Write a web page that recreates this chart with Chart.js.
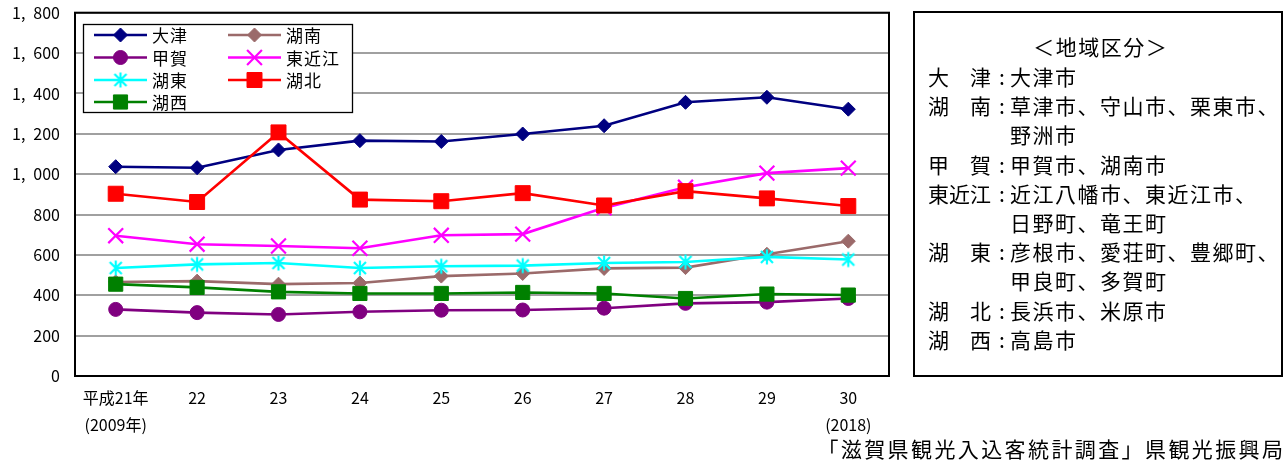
<!DOCTYPE html>
<html lang="ja">
<head>
<meta charset="utf-8">
<title>滋賀県 地域別観光入込客数の推移</title>
<script src="https://cdn.jsdelivr.net/npm/chart.js@4.4.0/dist/chart.umd.min.js"></script>
<style>
  html, body { margin: 0; padding: 0; background: #fff; }
  #wrap { position: relative; width: 1288px; height: 462px; }
  canvas { display: block; }
</style>
</head>
<body>
<div id="wrap"><canvas id="c" width="1288" height="462"></canvas></div>
<script>
// Fiscal years (Heisei 21 = 2009 ... Heisei 30 = 2018)
const xLabels = [['平成21年', '(2009年)'], '22', '23', '24', '25', '26', '27', '28', '29', ['30', '(2018)']];

// Visitors per region (万人)
const otsu      = [1037, 1032, 1120, 1166, 1162, 1199, 1240, 1356, 1381, 1322];
const konan     = [466, 470, 455, 461, 495, 508, 533, 537, 603, 668];
const koka      = [330, 314, 305, 318, 326, 327, 336, 360, 366, 384];
const higashiOmi= [695, 653, 644, 633, 697, 703, 833, 935, 1005, 1030];
const koto      = [535, 553, 560, 535, 544, 547, 560, 565, 590, 577];
const kohoku    = [903, 862, 1207, 874, 866, 906, 845, 916, 880, 842];
const kosei     = [455, 439, 417, 409, 409, 414, 409, 384, 406, 401];

const seriesNames  = ['大津', '湖南', '甲賀', '東近江', '湖東', '湖北', '湖西'];
const seriesValues = [otsu, konan, koka, higashiOmi, koto, kohoku, kosei];

// Region breakdown shown in the side panel
const panelTitle = '＜地域区分＞';
const regionRows = [
  ['大　津', ['大津市']],
  ['湖　南', ['草津市、守山市、栗東市、', '野洲市']],
  ['甲　賀', ['甲賀市、湖南市']],
  ['東近江', ['近江八幡市、東近江市、', '日野町、竜王町']],
  ['湖　東', ['彦根市、愛荘町、豊郷町、', '甲良町、多賀町']],
  ['湖　北', ['長浜市、米原市']],
  ['湖　西', ['高島市']]
];
const sourceNote = '「滋賀県観光入込客統計調査」県観光振興局';

const FONT = '"Noto Sans CJK JP", "Noto Sans", sans-serif';
Chart.defaults.font.family = FONT;
Chart.defaults.color = '#000';

// Asterisk marker (X with a vertical stroke)
function asteriskMarker(color) {
  const s = 20, c = s / 2;
  const cv = document.createElement('canvas');
  cv.width = s; cv.height = s;
  const g = cv.getContext('2d');
  g.strokeStyle = color;
  g.lineWidth = 2.2;
  g.lineCap = 'butt';
  g.beginPath();
  g.moveTo(c, c - 7.5); g.lineTo(c, c + 7.5);
  g.moveTo(c - 6, c - 6); g.lineTo(c + 6, c + 6);
  g.moveTo(c + 6, c - 6); g.lineTo(c - 6, c + 6);
  g.stroke();
  return cv;
}

const styles = [
  { color: '#000080', pointStyle: 'rectRot', radius: 7,    pbw: 1 },
  { color: '#9b6a6a', pointStyle: 'rectRot', radius: 7,    pbw: 1 },
  { color: '#800080', pointStyle: 'circle',  radius: 7,    pbw: 1 },
  { color: '#ff00ff', pointStyle: 'crossRot',radius: 10.5, pbw: 2.2 },
  { color: '#00ffff', pointStyle: asteriskMarker('#00ffff'), radius: 8, pbw: 0 },
  { color: '#ff0000', pointStyle: 'rect',    radius: 10.6, pbw: 1 },
  { color: '#008000', pointStyle: 'rect',    radius: 10,   pbw: 1 }
];

const datasets = seriesNames.map((name, i) => ({
  label: name,
  data: seriesValues[i],
  borderColor: styles[i].color,
  backgroundColor: styles[i].color,
  borderWidth: 2.6,
  pointStyle: styles[i].pointStyle,
  pointRadius: styles[i].radius,
  pointHoverRadius: styles[i].radius,
  pointBorderWidth: styles[i].pbw,
  pointBorderColor: styles[i].color,
  pointBackgroundColor: styles[i].color,
  tension: 0,
  fill: false,
  // later series are painted over earlier ones
  order: seriesNames.length - i
}));

// Draw a string with extra spacing between characters
function spacedText(ctx, text, x, y, spacing) {
  let cx = x;
  for (const ch of text) {
    ctx.fillText(ch, cx, y);
    cx += ctx.measureText(ch).width + spacing;
  }
  return cx - spacing;
}
function spacedWidth(ctx, text, spacing) {
  let w = 0;
  for (const ch of text) w += ctx.measureText(ch).width + spacing;
  return w - spacing;
}

// Plot frame, legend box, region panel and source line
const decorations = {
  id: 'decorations',
  afterDraw(chart) {
    const ctx = chart.ctx;
    const a = chart.chartArea;
    ctx.save();

    // frame around the plot area
    ctx.strokeStyle = '#000';
    ctx.lineWidth = 2;
    ctx.strokeRect(a.left, a.top, a.right - a.left, a.bottom - a.top);

    // legend box
    const lx = 83, ly = 24, lw = 269, lh = 88;
    ctx.fillStyle = '#fff';
    ctx.fillRect(lx, ly, lw, lh);
    ctx.lineWidth = 1.3;
    ctx.strokeRect(lx + 0.5, ly + 0.5, lw, lh);
    const colX = [94, 228];
    const rowY = [35, 57.5, 80, 102];
    ctx.font = '17px ' + FONT;
    ctx.textBaseline = 'middle';
    ctx.textAlign = 'left';
    chart.data.datasets.forEach((ds, i) => {
      const x0 = colX[i % 2], y0 = rowY[Math.floor(i / 2)];
      ctx.strokeStyle = ds.borderColor;
      ctx.lineWidth = 2.6;
      ctx.beginPath();
      ctx.moveTo(x0, y0); ctx.lineTo(x0 + 53, y0);
      ctx.stroke();
      ctx.fillStyle = ds.pointBackgroundColor;
      ctx.strokeStyle = ds.pointBorderColor;
      ctx.lineWidth = ds.pointBorderWidth;
      Chart.helpers.drawPoint(ctx, {
        pointStyle: ds.pointStyle, rotation: 0,
        radius: ds.pointRadius, borderWidth: ds.pointBorderWidth
      }, x0 + 26.5, y0);
      ctx.fillStyle = '#000';
      spacedText(ctx, ds.label, x0 + 58, y0 + 1, 1);
    });

    // region panel
    ctx.strokeStyle = '#000';
    ctx.lineWidth = 2;
    ctx.strokeRect(914, 12, 368, 364);
    ctx.fillStyle = '#000';
    ctx.font = '21px ' + FONT;
    ctx.textBaseline = 'middle';
    const sp = 1.5;
    const tw = spacedWidth(ctx, panelTitle, sp);
    spacedText(ctx, panelTitle, 1100 - tw / 2, 47, sp);
    let line = 0;
    const y0 = 77, step = 29.2;
    regionRows.forEach(([name, parts]) => {
      const y = y0 + line * step;
      spacedText(ctx, name, 928, y, 0);
      ctx.fillText(':', 999, y);
      parts.forEach((p, k) => {
        spacedText(ctx, p, 1010, y0 + (line + k) * step, sp);
      });
      line += parts.length;
    });

    // source
    ctx.font = '21px ' + FONT;
    const ssp = 2.4;
    const sw = spacedWidth(ctx, sourceNote, ssp);
    spacedText(ctx, sourceNote, 1283 - sw, 449, ssp);

    ctx.restore();
  }
};

new Chart(document.getElementById('c'), {
  type: 'line',
  data: { labels: xLabels, datasets },
  options: {
    responsive: false,
    devicePixelRatio: 1,
    animation: false,
    layout: { padding: { left: 0, right: 399, top: 12, bottom: 0 } },
    plugins: { legend: { display: false }, tooltip: { enabled: false } },
    events: [],
    scales: {
      x: {
        type: 'category',
        offset: true,
        grid: { display: false, drawTicks: false },
        border: { display: true, color: '#000', width: 2 },
        ticks: {
          padding: 9, maxRotation: 0, autoSkip: false, color: '#000',
          font: { size: 16, lineHeight: 1.65 }
        },
        afterFit(scale) { scale.height = 86; scale.paddingLeft = 0; scale.paddingRight = 0; }
      },
      y: {
        min: 0, max: 1800,
        grid: { color: '#a0a0a0', lineWidth: 2, drawTicks: false },
        border: { display: true, color: '#000', width: 2 },
        ticks: {
          stepSize: 200, padding: 15, color: '#000',
          font: { size: 16 },
          callback: v => v >= 1000
            ? Math.floor(v / 1000) + ',\u2002' + String(v % 1000).padStart(3, '0')
            : String(v)
        },
        afterFit(scale) { scale.width = 75; scale.paddingTop = 0; scale.paddingBottom = 0; }
      }
    }
  },
  plugins: [decorations]
});
</script>
</body>
</html>
